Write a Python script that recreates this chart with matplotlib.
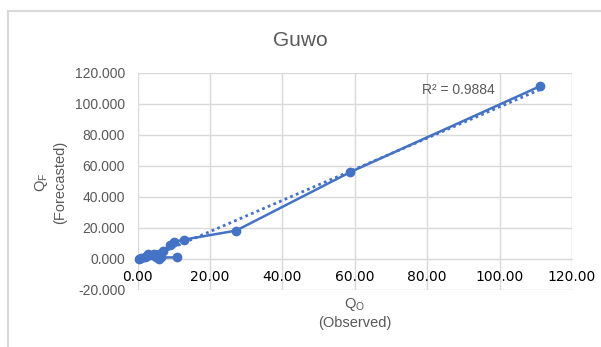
import numpy as np
import matplotlib
matplotlib.use("Agg")
import matplotlib.pyplot as plt
from matplotlib.lines import Line2D

# Data
observed = [11.0, 6.5, 6.0, 5.0, 4.0, 3.0, 2.0, 1.0, 0.3, 2.5, 4.5, 6.0, 7.0,
            9.0, 10.0, 12.8, 27.2, 58.7, 111.2]
forecasted = [1.0, 1.0, -0.3, 1.5, 2.5, 3.0, 1.5, 0.6, 0.2, 1.8, 3.5, 3.5, 5.0,
              9.3, 11.0, 12.5, 18.3, 56.0, 111.5]
x_ticks = [0, 20, 40, 60, 80, 100, 120]
y_ticks = [-20, 0, 20, 40, 60, 80, 100, 120]
r2_label = "R² = 0.9884"
title = "Guwo"

blue = "#4472C4"
grey_txt = "#595959"
grid_c = "#d9d9d9"
font = "Liberation Sans"

fig = plt.figure(figsize=(6.01, 3.47), dpi=100)
fig.patch.set_facecolor("white")
ax = fig.add_axes([0.229, 0.1643, 0.7228, 0.6254])

ax.set_xlim(0, 120)
ax.set_ylim(-20, 120)
ax.set_xticks(x_ticks)
ax.set_yticks(y_ticks)
ax.set_xticklabels([f"{v:.2f}" for v in x_ticks], fontsize=10, color=grey_txt, family=font)
ax.set_yticklabels([f"{v:.3f}" for v in y_ticks], fontsize=10, color=grey_txt, family=font)
ax.grid(True, color=grid_c, lw=1)
ax.set_axisbelow(True)
for s in ["top", "right", "left"]:
    ax.spines[s].set_visible(False)
ax.spines["bottom"].set_position(("data", 0))
ax.spines["bottom"].set_color(grid_c)
ax.tick_params(length=0)
ax.tick_params(axis="y", pad=9)
ax.tick_params(axis="x", pad=8)

# series
ax.plot(observed, forecasted, color=blue, lw=1.8, marker="o", ms=6,
        solid_capstyle="round", zorder=3, clip_on=False)

# linear trendline
coef = np.polyfit(observed, forecasted, 1)
xs = np.array([min(observed), max(observed)])
ax.plot(xs, np.polyval(coef, xs), color=blue, lw=2, ls=(0, (1, 1.2)), zorder=2)

ax.text(78.5, 109, r2_label, fontsize=10, color=grey_txt, family=font, va="center")

fig.text(0.5, 0.884, title, fontsize=15, color=grey_txt, family=font, ha="center", va="center")
fig.text(0.59, 0.097, "Q$_\\mathregular{O}$\n(Observed)", fontsize=10.5, color=grey_txt,
         family=font, ha="center", va="center", linespacing=1.25)
fig.text(0.083, 0.475, "Q$_\\mathregular{F}$\n(Forecasted)", fontsize=10.5, color=grey_txt,
         family=font, ha="center", va="center", rotation=90, linespacing=1.25)

# chart border (top and left visible)
fig.add_artist(Line2D([0.013, 1.0], [0.968, 0.968], color="#d9d9d9", lw=1.5, transform=fig.transFigure))
fig.add_artist(Line2D([0.013, 0.013], [0.0, 0.968], color="#d9d9d9", lw=1.5, transform=fig.transFigure))

fig.savefig("out.png", dpi=100, facecolor="white")
